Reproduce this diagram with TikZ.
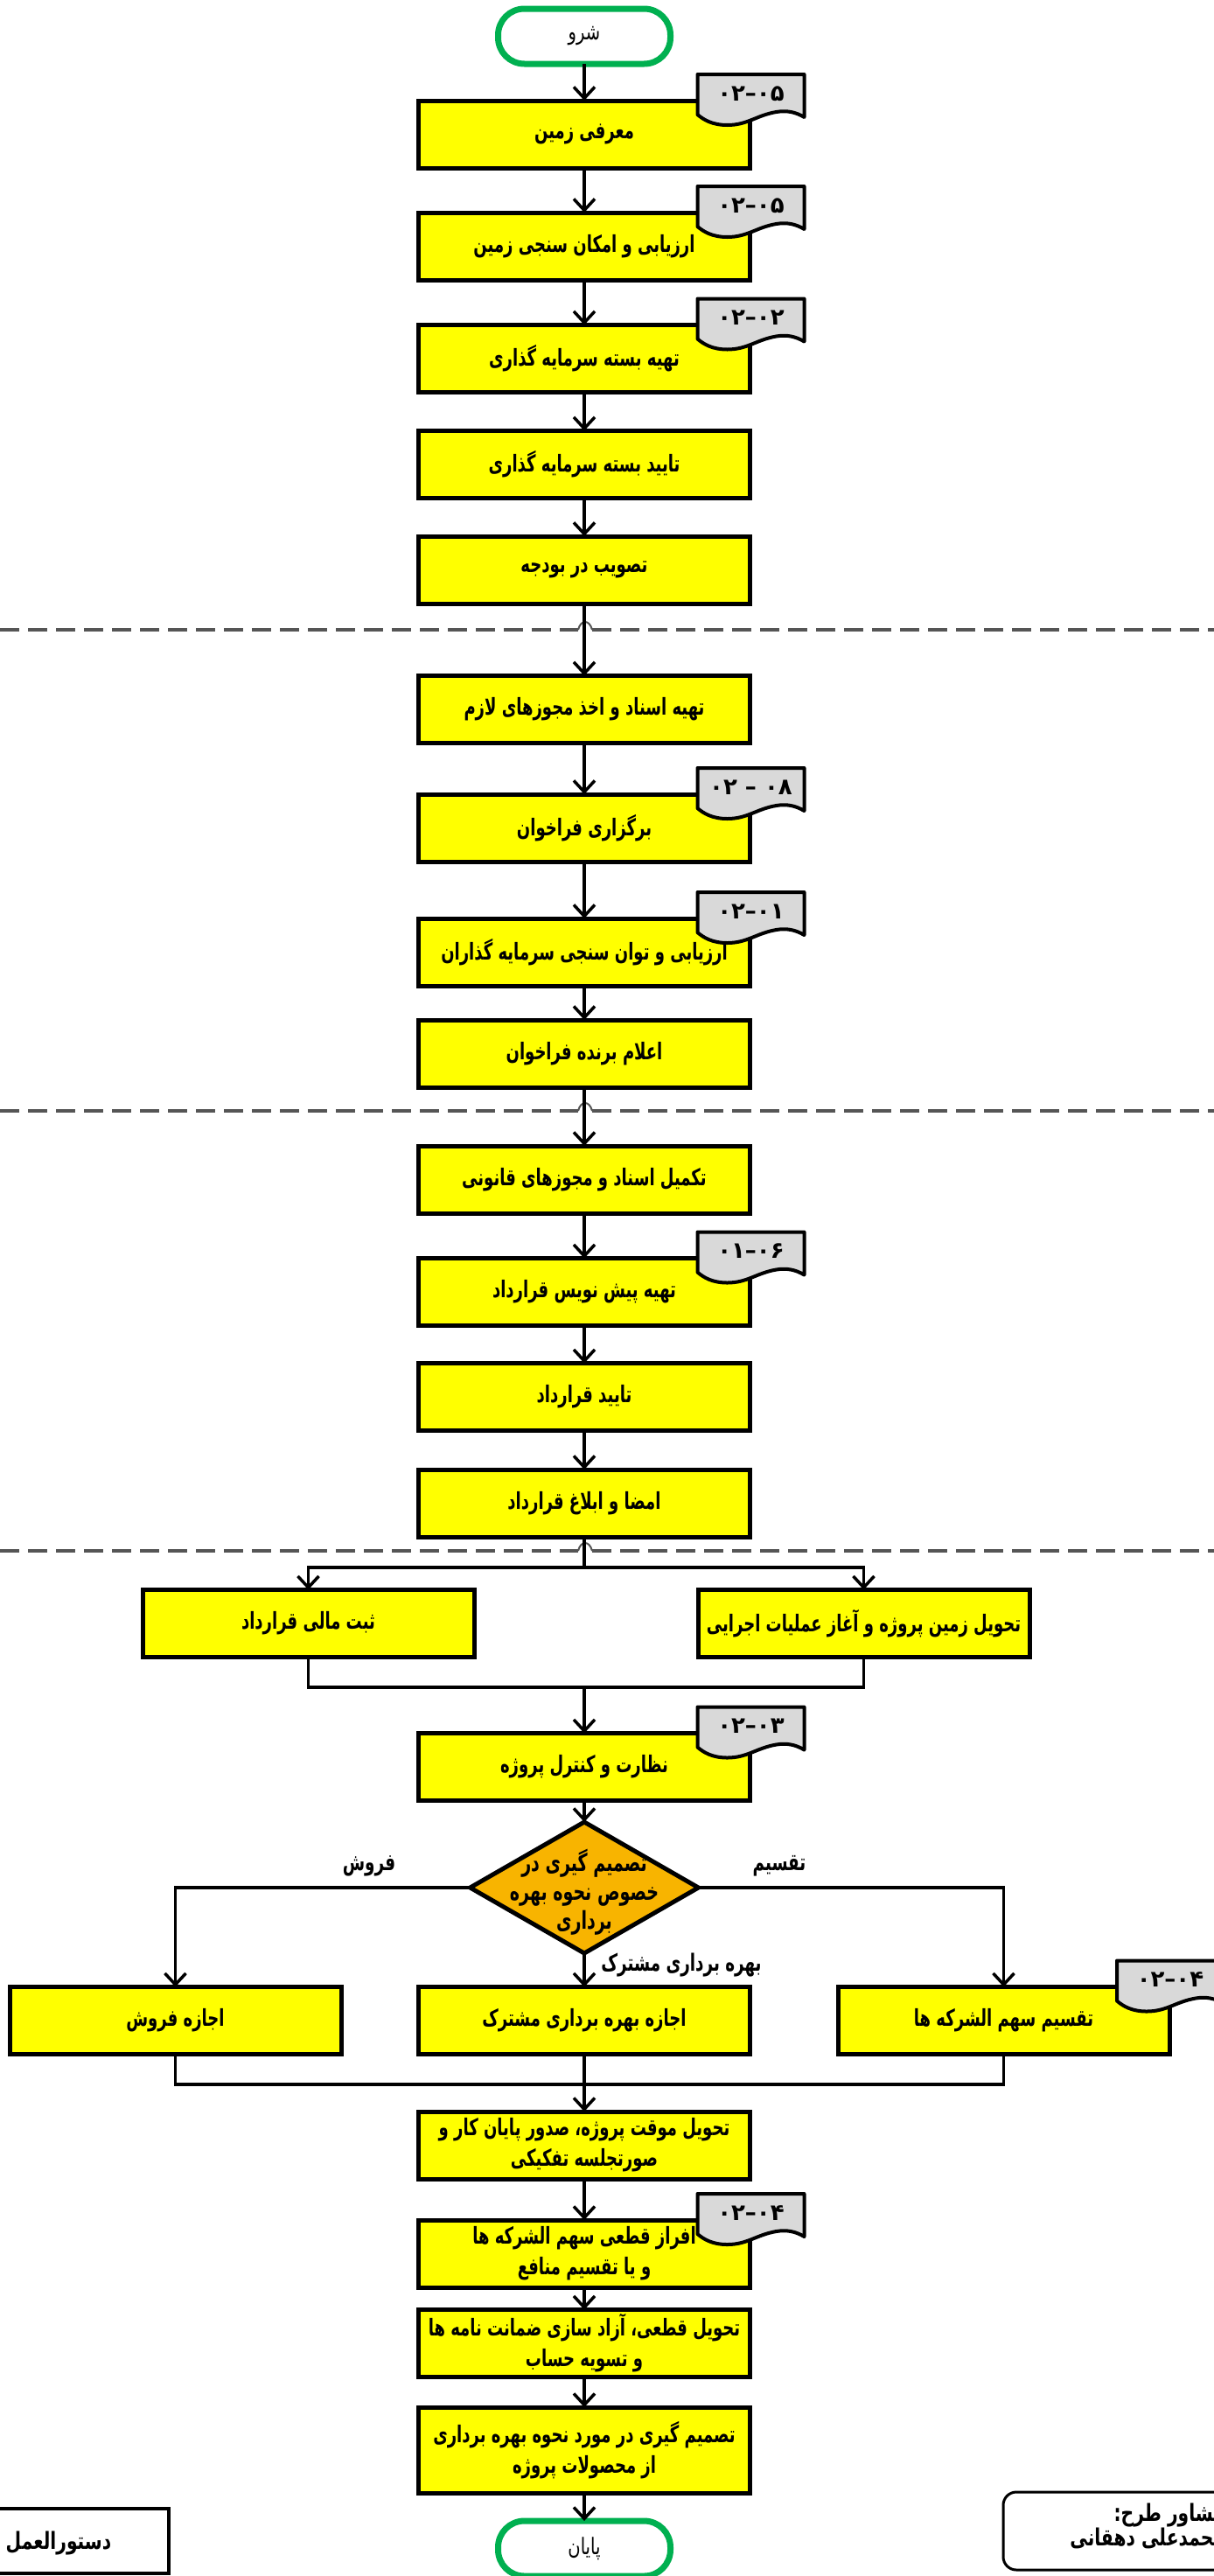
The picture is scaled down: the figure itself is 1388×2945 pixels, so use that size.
\documentclass[tikz,border=0pt]{standalone}
\usepackage{fontspec}
\usetikzlibrary{arrows.meta,shapes.geometric,calc}
\TeXXeTstate=1
\newfontfamily\fafont[Script=Arabic,FakeStretch=0.75]{DejaVu Sans}
\newfontfamily\fabox[Script=Arabic,FakeStretch=0.68]{DejaVu Sans}
\newfontfamily\fadig[Script=Arabic]{DejaVu Sans}
\newcommand\rl[1]{\beginR #1\endR}
\definecolor{boxyellow}{RGB}{255,255,0}
\definecolor{decorange}{RGB}{248,180,0}
\definecolor{tabgray}{RGB}{217,217,217}
\definecolor{termgreen}{RGB}{0,176,80}
\definecolor{dashgray}{RGB}{85,85,85}
\newcommand\doctab[3]{%
  \begin{scope}[shift={(#1.north east)}]
    \draw[tabshape] (-60,-30) -- (62,-30) -- (62,19)
      .. controls (52,13) and (42,11) .. (30,13)
      .. controls (7,17) and (-3,28) .. (-26,28)
      .. controls (-43,28) and (-53,22) .. (-60,16) -- cycle;
    \node[tabtext] (#2) at (1,-8) {#3};
  \end{scope}}
\newcommand\sepline[1]{%
  \draw[sepdash] (0,#1) -- (661,#1);
  \draw[sepdash] (677,#1) -- (1388,#1);
  \draw[hop] (661,#1) .. controls (664,{#1-12}) and (674,{#1-12}) .. (677,#1);}
\begin{document}
\begin{tikzpicture}[x=1pt,y=-1pt,
  every node/.style={inner sep=0pt,outer sep=0pt},
  stepbox/.style={draw=black,line width=5pt,fill=boxyellow,minimum width=379pt,minimum height=77pt,align=center,font=\fabox\bfseries\fontsize{26.5}{35}\selectfont},
  term/.style={draw=termgreen,line width=7pt,fill=white,rounded corners=30pt,minimum width=197pt,minimum height=63pt,font=\fafont\fontsize{26}{30}\selectfont},
  decision/.style={draw=black,line width=5pt,fill=decorange,shape=diamond,minimum width=261pt,minimum height=150pt},
  dectext/.style={align=center,font=\fabox\bfseries\fontsize{28}{33}\selectfont},
  lbl/.style={font=\fabox\bfseries\fontsize{27}{28}\selectfont},
  tabshape/.style={draw=black,line width=4pt,fill=tabgray,line join=round},
  tabtext/.style={font=\fadig\bfseries\fontsize{26}{26}\selectfont},
  conn/.style={draw=black,line width=3.5pt},
  arr/.style={conn,-{Straight Barb[length=13pt,width=24pt]}},
  sepdash/.style={draw=dashgray,line width=4pt,dash pattern=on 22pt off 10pt},
  hop/.style={draw=dashgray,line width=2pt},
  frame/.style={draw=black,line width=4pt,fill=white},
  ftext/.style={font=\fafont\bfseries\fontsize{27}{25}\selectfont,align=right}
]
\clip (0,0) rectangle (1388,2945);
\fill[white] (0,0) rectangle (1388,2945);

% separators
\sepline{720}
\sepline{1270}
\sepline{1773}

% nodes
\node[term] (start) at (668,41.5) {\rl{شرو}};
\node[stepbox] (b1) at (668,153.5) {\rl{معرفی زمین}};
\node[stepbox] (b2) at (668,281.5) {\rl{ارزیابی و امکان سنجی زمین}};
\node[stepbox] (b3) at (668,410) {\rl{تهیه بسته سرمایه گذاری}};
\node[stepbox] (b4) at (668,531) {\rl{تایید بسته سرمایه گذاری}};
\node[stepbox] (b5) at (668,651.5) {\rl{تصویب در بودجه}};
\node[stepbox] (b6) at (668,811) {\rl{تهیه اسناد و اخذ مجوزهای لازم}};
\node[stepbox] (b7) at (668,946.5) {\rl{برگزاری فراخوان}};
\node[stepbox] (b8) at (668,1088.5) {\rl{ارزیابی و توان سنجی سرمایه گذاران}};
\node[stepbox] (b9) at (668,1204.5) {\rl{اعلام برنده فراخوان}};
\node[stepbox] (b10) at (668,1348.5) {\rl{تکمیل اسناد و مجوزهای قانونی}};
\node[stepbox] (b11) at (668,1477) {\rl{تهیه پیش نویس قرارداد}};
\node[stepbox] (b12) at (668,1597) {\rl{تایید قرارداد}};
\node[stepbox] (b13) at (668,1718.5) {\rl{امضا و ابلاغ قرارداد}};
\node[stepbox] (lb) at (352.5,1856) {\rl{ثبت مالی قرارداد}};
\node[stepbox] (rb) at (987.5,1856) {\rl{تحویل زمین پروژه و آغاز عملیات اجرایی}};
\node[stepbox] (b14) at (668,2020) {\rl{نظارت و کنترل پروژه}};
\node[decision] (dec) at (668,2158) {};
\node[dectext] (dect) at (668,2163) {\rl{تصمیم گیری در}\\\rl{خصوص نحوه بهره}\\\rl{برداری}};
\node[stepbox] (s1) at (200.5,2310) {\rl{اجازه فروش}};
\node[stepbox] (s2) at (668,2310) {\rl{اجازه بهره برداری مشترک}};
\node[stepbox] (s3) at (1147.5,2310) {\rl{تقسیم سهم الشرکه ها}};
\node[stepbox] (b15) at (668,2452.5) {\rl{تحویل موقت پروژه، صدور پایان کار و}\\\rl{صورتجلسه تفکیکی}};
\node[stepbox] (b16) at (668,2576.5) {\rl{افراز قطعی سهم الشرکه ها}\\\rl{و یا تقسیم منافع}};
\node[stepbox] (b17) at (668,2679) {\rl{تحویل قطعی، آزاد سازی ضمانت نامه ها}\\\rl{و تسویه حساب}};
\node[stepbox,minimum height=98pt] (b18) at (668,2801) {\rl{تصمیم گیری در مورد نحوه بهره برداری}\\\rl{از محصولات پروژه}};
\node[term] (stop) at (668,2913.5) {\rl{پایان}};

% tabs
\doctab{b1}{t1}{\rl{۰۵–۰۲}}
\doctab{b2}{t2}{\rl{۰۵–۰۲}}
\doctab{b3}{t3}{\rl{۰۲–۰۲}}
\doctab{b7}{t7}{\rl{۰۸ – ۰۲}}
\doctab{b8}{t8}{\rl{۰۱–۰۲}}
\doctab{b11}{t11}{\rl{۰۶–۰۱}}
\doctab{b14}{t14}{\rl{۰۳–۰۲}}
\doctab{s3}{ts3}{\rl{۰۴–۰۲}}
\doctab{b16}{t16}{\rl{۰۴–۰۲}}

% connectors
\draw[arr] (start.south) -- (b1.north);
\draw[arr] (b1.south) -- (b2.north);
\draw[arr] (b2.south) -- (b3.north);
\draw[arr] (b3.south) -- (b4.north);
\draw[arr] (b4.south) -- (b5.north);
\draw[arr] (b5.south) -- (b6.north);
\draw[arr] (b6.south) -- (b7.north);
\draw[arr] (b7.south) -- (b8.north);
\draw[arr] (b8.south) -- (b9.north);
\draw[arr] (b9.south) -- (b10.north);
\draw[arr] (b10.south) -- (b11.north);
\draw[arr] (b11.south) -- (b12.north);
\draw[arr] (b12.south) -- (b13.north);
\coordinate (split) at (668,1792);
\draw[conn] (b13.south) -- (split);
\draw[arr] (split) -| (lb.north);
\draw[arr] (split) -| (rb.north);
\coordinate (merge1) at (668,1929);
\draw[conn] (lb.south) |- (merge1);
\draw[conn] (rb.south) |- (merge1);
\draw[arr] (merge1) -- (b14.north);
\draw[arr] (b14.south) -- (dec.north);
\draw[arr] (dec.west) -| (s1.north);
\draw[arr] (dec.east) -| (s3.north);
\draw[arr] (dec.south) -- (s2.north);
\coordinate (merge2) at (668,2383);
\draw[conn] (s1.south) |- (merge2);
\draw[conn] (s3.south) |- (merge2);
\draw[conn] (s2.south) -- (merge2);
\draw[arr] (merge2) -- (b15.north);
\draw[arr] (b15.south) -- (b16.north);
\draw[arr] (b16.south) -- (b17.north);
\draw[arr] (b17.south) -- (b18.north);
\draw[arr] (b18.south) -- (stop.north);

% branch labels
\node[lbl] (lsell) at (422,2133) {\rl{فروش}};
\node[lbl] (ldiv) at (891,2133) {\rl{تقسیم}};
\node[lbl] (ljoint) at (779,2247) {\rl{بهره برداری مشترک}};

% frame boxes
\node[frame,minimum width=252pt,minimum height=74pt] (proc) at (67,2905) {};
\node[ftext] (proct) at (67,2908) {\rl{دستورالعمل}};
\node[frame,line width=3pt,rounded corners=15pt,minimum width=300pt,minimum height=89pt] (cons) at (1297,2893.5) {};
\node[ftext,anchor=east] (const) at (1400,2888) {\rl{مشاور طرح:}\\\rl{محمدعلی دهقانی}};
\end{tikzpicture}
\end{document}
